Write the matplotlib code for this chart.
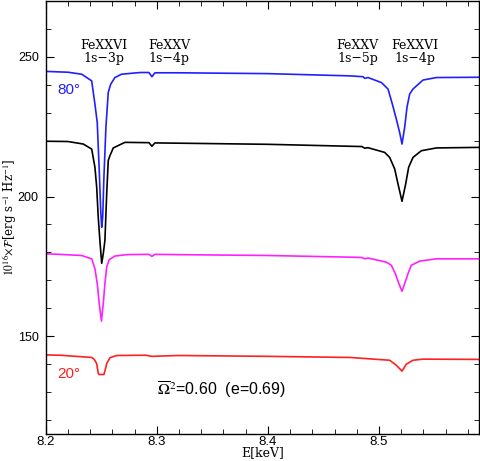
"""
Fe K absorption line spectra at two inclinations (reproduction).
"""

import matplotlib
matplotlib.use('Agg')
import matplotlib.pyplot as plt
from matplotlib.ticker import MultipleLocator

plt.rcParams['font.family'] = 'Liberation Sans'
plt.rcParams['mathtext.fontset'] = 'stix'
plt.rcParams['axes.linewidth'] = 1.0

# --- data ---
blue_e = [8.200, 8.220, 8.2324, 8.2414, 8.2443, 8.2464, 8.2482, 8.2495, 8.2504, 8.2513,
          8.2524, 8.2542, 8.2563, 8.2585, 8.2623, 8.2683, 8.2850, 8.2929, 8.2956, 8.2983,
          8.3200, 8.4000, 8.4737, 8.4856, 8.4872, 8.4901, 8.5022, 8.5081, 8.5120, 8.5156,
          8.5186, 8.5207, 8.5231, 8.5252, 8.5276, 8.5306, 8.5396, 8.5516, 8.5900]
blue_f = [244.8, 244.5, 243.8, 241.4, 233.1, 226.5, 209.3, 195.0, 189.0, 192.6,
          206.9, 224.8, 237.3, 240.2, 242.6, 243.8, 244.4, 244.4, 242.9, 244.3,
          244.3, 244.0, 243.2, 242.9, 242.3, 242.6, 240.8, 238.5, 233.1, 227.7,
          222.9, 218.8, 224.8, 232.0, 236.7, 238.5, 241.7, 242.6, 242.7]

black_e = [8.200, 8.220, 8.2338, 8.2414, 8.2443, 8.2459, 8.2473, 8.2490, 8.2504, 8.2518,
           8.2533, 8.2549, 8.2563, 8.2578, 8.2608, 8.2713, 8.2900, 8.2929, 8.2956, 8.2983,
           8.3200, 8.4000, 8.4737, 8.4845, 8.4872, 8.4900, 8.5051, 8.5096, 8.5141, 8.5171,
           8.5207, 8.5240, 8.5267, 8.5306, 8.5381, 8.5516, 8.5900]
black_f = [219.8, 219.7, 218.8, 217.0, 210.5, 203.3, 192.6, 183.0, 176.1, 179.5,
           184.3, 201.0, 212.9, 214.6, 217.4, 219.4, 219.3, 219.3, 218.0, 219.2,
           219.1, 218.7, 218.0, 217.9, 217.3, 217.5, 215.8, 214.0, 209.9, 204.5,
           198.3, 204.5, 210.5, 214.0, 216.4, 217.4, 217.6]

magenta_e = [8.200, 8.2129, 8.2324, 8.2414, 8.2443, 8.2464, 8.2482, 8.2502, 8.2518, 8.2533,
             8.2549, 8.2572, 8.2623, 8.2728, 8.2900, 8.2929, 8.2956, 8.2983, 8.3200, 8.4000,
             8.4737, 8.4845, 8.4872, 8.4901, 8.5067, 8.5111, 8.5147, 8.5177, 8.5207, 8.5237,
             8.5261, 8.5291, 8.5367, 8.5516, 8.5900]
magenta_f = [179.5, 179.3, 178.9, 177.7, 174.2, 168.8, 161.7, 155.4, 161.7, 168.8,
             174.8, 177.4, 178.7, 179.2, 179.3, 179.3, 178.6, 179.3, 179.2, 178.9,
             178.3, 178.2, 177.7, 178.0, 176.5, 175.4, 172.4, 169.0, 166.1, 169.5,
             172.4, 175.4, 176.9, 177.7, 177.7]

red_e = [8.200, 8.2129, 8.2414, 8.2437, 8.2459, 8.2473, 8.2482, 8.2524, 8.2539, 8.2549,
         8.2578, 8.2638, 8.2900, 8.2956, 8.3200, 8.4000, 8.4737, 8.5096, 8.5156, 8.5207,
         8.5246, 8.5306, 8.5396, 8.5900]
red_f = [143.3, 143.2, 142.4, 141.7, 140.2, 136.7, 136.3, 136.3, 138.5, 140.2,
         142.3, 143.1, 143.2, 142.8, 143.1, 142.8, 142.4, 141.4, 139.6, 137.5,
         140.0, 141.4, 141.8, 141.7]

line_names = ['FeXXVI', 'FeXXV', 'FeXXV', 'FeXXVI']
line_trans = ['1s\u22123p', '1s\u22124p', '1s\u22125p', '1s\u22124p']
line_pos = [8.2525, 8.3109, 8.4809, 8.5321]

SERIF = 'DejaVu Serif'

fig = plt.figure(figsize=(4.8, 4.61), dpi=100)
ax = fig.add_axes([45.7 / 480, 27 / 461, (479 - 45.7) / 480, 433 / 461])

ax.plot(blue_e, blue_f, color='#2020ff', lw=1.2)
ax.plot(black_e, black_f, color='black', lw=1.2)
ax.plot(magenta_e, magenta_f, color='#ff20ff', lw=1.2)
ax.plot(red_e, red_f, color='#ff2020', lw=1.2)

ax.set_xlim(8.2, 8.59)
ax.set_ylim(115, 270)
ax.xaxis.set_major_locator(MultipleLocator(0.1))
ax.xaxis.set_minor_locator(MultipleLocator(0.02))
ax.yaxis.set_major_locator(MultipleLocator(50))
ax.yaxis.set_minor_locator(MultipleLocator(10))
ax.tick_params(which='both', direction='in', top=True, right=True, labelsize=9.5)
ax.tick_params(axis='y', labelsize=9)
ax.tick_params(which='major', length=6)
ax.tick_params(which='minor', length=3.5)
ax.tick_params(axis='x', pad=1.5)
ax.tick_params(axis='y', pad=5)

for name, trans, x in zip(line_names, line_trans, line_pos):
    ax.text(x, 252.75, name, ha='center', va='baseline', family=SERIF, fontsize=9)
    ax.text(x, 248.2, trans, ha='center', va='baseline', family=SERIF, fontsize=9)

ax.text(8.2102, 236.7, '80\u00b0', color='#2020ff', fontsize=11, va='baseline')
ax.text(8.2102, 134.9, '20\u00b0', color='#ff2020', fontsize=11, va='baseline')
ax.text(8.2998, 128.9, r'$\overline{\Omega}^2$=0.60  (e=0.69)', fontsize=11.5, va='baseline')

ax.set_xlabel('E[keV]', family=SERIF, fontsize=9)
ax.xaxis.set_label_coords(0.5, -0.029)
ax.set_ylabel(r'$10^{16}\!\times\!\mathcal{F}$[erg s$^{-1}$ Hz$^{-1}$]',
              family=SERIF, fontsize=8.5)
ax.yaxis.set_label_coords(-0.063, 0.5)

fig.savefig('out.png', dpi=100)
